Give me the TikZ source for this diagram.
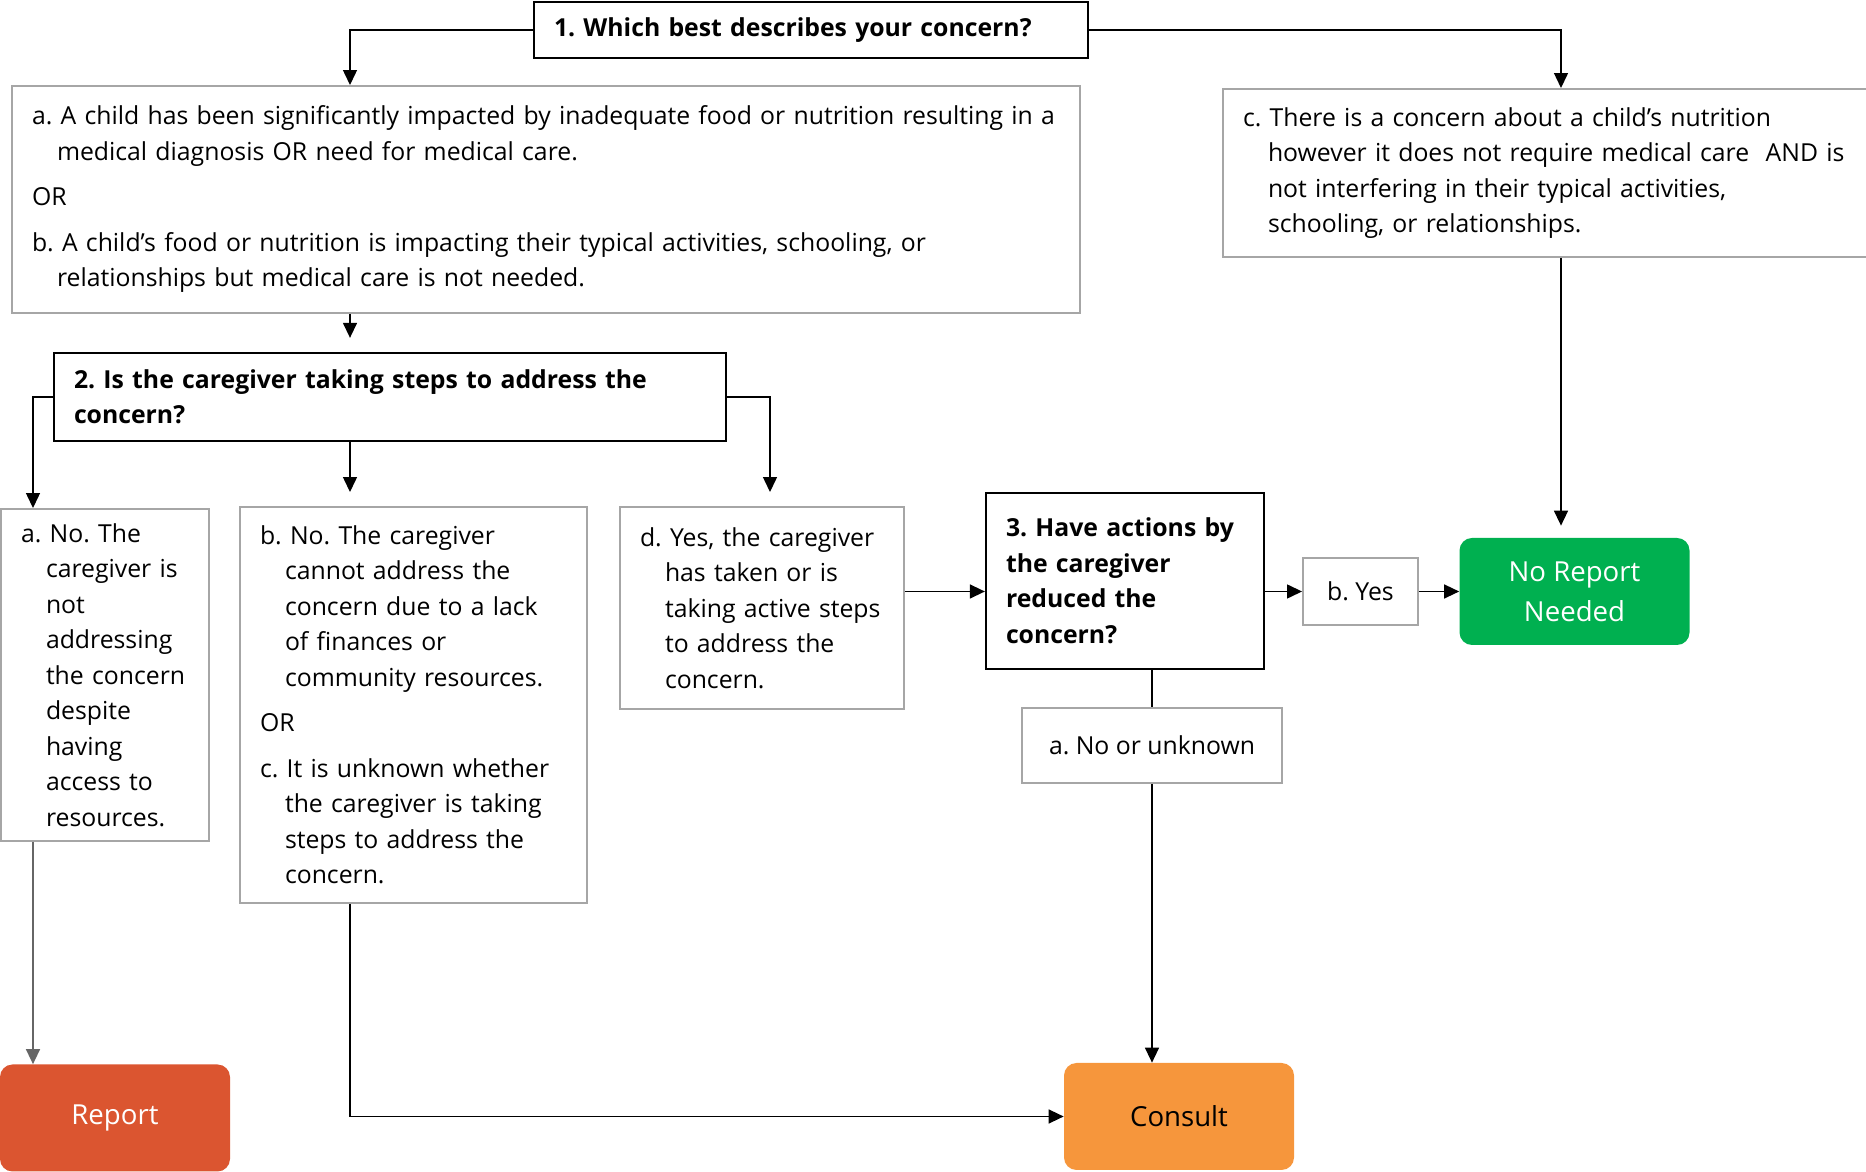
\documentclass[tikz,border=0pt]{standalone}
\usepackage{fontspec}
\setmainfont{Open Sans}
\usetikzlibrary{arrows.meta}

\definecolor{answergray}{HTML}{A6A6A6}
\definecolor{reportred}{HTML}{DB5530}
\definecolor{consultorange}{HTML}{F6963C}
\definecolor{noreportgreen}{HTML}{00B050}

\newcommand{\indline}{\hspace*{0.5cm}}

\tikzset{
  question/.style={draw=black, line width=1.3pt, align=left, inner xsep=0.4cm,
    font=\bfseries\fontsize{14.1}{20.2}\selectfont},
  answer/.style={draw=answergray, line width=1.1pt, align=left, inner xsep=0.4cm,
    font=\fontsize{14.1}{20.2}\selectfont},
  choice/.style={draw=answergray, line width=1.1pt, align=center,
    font=\fontsize{14.1}{20.2}\selectfont},
  outcome/.style={rounded corners=0.25cm, minimum width=4.6cm, minimum height=2.14cm,
    align=center, font=\fontsize{15.7}{22.8}\selectfont},
  arr/.style={-{Triangle[length=0.3cm,width=0.28cm]}, line width=0.8pt},
  gap/.style={shorten >=0.28cm},
}

\begin{document}
\frenchspacing
\begin{tikzpicture}
		\useasboundingbox (0,0) rectangle (37.32,23.44);
		
		% Questions
		\node[question, text width=10.28cm, minimum height=1.12cm] (q1) at (16.22,22.84)
			{1. Which best describes your concern?};
		\node[question, text width=12.64cm, minimum height=1.76cm] (q2) at (7.8,15.5)
			{2. Is the caregiver taking steps to address the\\ concern?};
		\node[question, text width=4.76cm, minimum height=3.52cm] (q3) at (22.5,11.82)
			{3. Have actions by\\ the caregiver\\ reduced the\\ concern?};
		
		% Answers to question 1
		\node[answer, text width=20.56cm, minimum height=4.54cm] (food) at (10.92,19.45)
			{a. A child has been significantly impacted by inadequate food or nutrition resulting in a\\
			\indline medical diagnosis OR need for medical care.\\[0.2cm]
			OR\\[0.2cm]
			b. A child’s food or nutrition is impacting their typical activities, schooling, or\\
			\indline relationships but medical care is not needed.};
		\node[answer, text width=12.72cm, minimum height=3.36cm] (cbox) at (31.22,19.98)
			{c. There is a concern about a child’s nutrition\\
			\indline however it does not require medical care \ AND is\\
			\indline not interfering in their typical activities,\\
			\indline schooling, or relationships.};
		
		% Answers to question 2
		\node[answer, text width=3.36cm, minimum height=6.64cm] (ansa) at (2.1,9.94)
			{a. No. The\\ \indline caregiver is\\ \indline not\\ \indline addressing\\
			\indline the concern\\ \indline despite\\ \indline having\\ \indline access to\\
			\indline resources.};
		\node[answer, text width=6.14cm, minimum height=7.92cm] (ansb) at (8.27,9.34)
			{b. No. The caregiver\\ \indline cannot address the\\ \indline concern due to a lack\\
			\indline of finances or\\ \indline community resources.\\[0.2cm]
			OR\\[0.2cm]
			c. It is unknown whether\\ \indline the caregiver is taking\\
			\indline steps to address the\\ \indline concern.};
		\node[answer, text width=4.88cm, minimum height=4.04cm] (ansd) at (15.24,11.28)
			{d. Yes, the caregiver\\ \indline has taken or is\\ \indline taking active steps\\
			\indline to address the\\ \indline concern.};
		
		% Answers to question 3
		\node[choice, minimum width=2.3cm, minimum height=1.34cm] (yes) at (27.21,11.61) {b. Yes};
		\node[choice, minimum width=5.2cm, minimum height=1.5cm] (unknown) at (23.04,8.53) {a. No or unknown};
		
		% Outcomes
		\node[outcome, fill=noreportgreen, text=white] (noreport) at (31.49,11.61) {No Report\\ Needed};
		\node[outcome, fill=reportred, text=white] (report) at (2.3,1.08) {Report};
		\node[outcome, fill=consultorange] (consult) at (23.58,1.11) {Consult};
		
		% Connectors
		\coordinate (spine) at (7,0);
		\coordinate (leftrail) at (0.66,0);
		\coordinate (rightrail) at (15.4,0);
		\draw[arr] (q1.west) -| (food.north -| spine);
		\draw[arr] (q1.east) -| (cbox.north);
		\draw[arr, gap] (food.south -| spine) -- (q2.north -| spine);
		\draw[arr] (q2.west) -| (ansa.north -| leftrail);
		\draw[arr, gap] (q2.south -| spine) -- (ansb.north -| spine);
		\draw[arr, gap] (q2.east) -| (ansd.north -| rightrail);
		\draw[arr] (ansd.east |- yes) -- (q3.west |- yes);
		\draw[arr] (q3.east |- yes) -- (yes.west);
		\draw[arr] (yes.east) -- (noreport.west);
		\draw[arr, shorten >=0.24cm] (cbox.south) -- (cbox.south |- noreport.north);
		\draw[line width=0.8pt] (q3.south -| unknown) -- (unknown.north);
		\draw[arr] (unknown.south) -- (unknown.south |- consult.north);
		\draw[arr, black!60] (ansa.south -| leftrail) -- (report.north -| leftrail);
		\draw[arr] (ansb.south -| spine) |- (consult.west);
		
	\end{tikzpicture}
\end{document}
